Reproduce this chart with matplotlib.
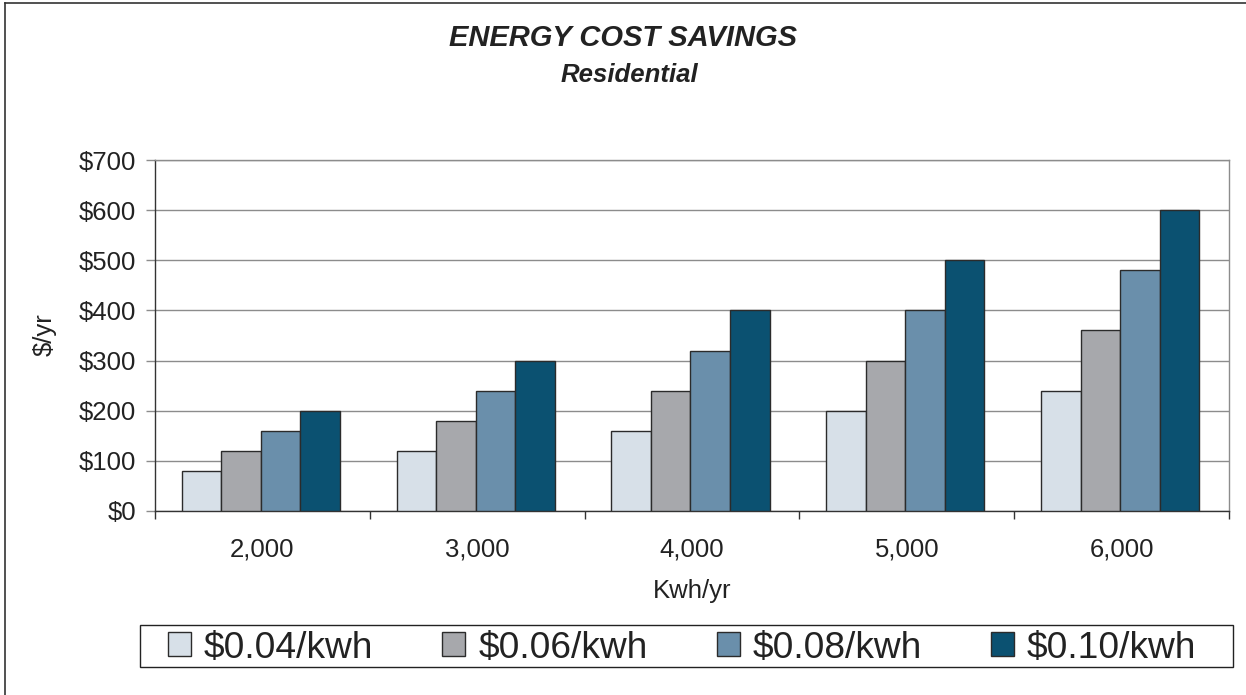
import matplotlib
matplotlib.use("Agg")
import matplotlib.pyplot as plt
from matplotlib.lines import Line2D
from matplotlib.patches import Rectangle
from matplotlib.ticker import FixedLocator, FuncFormatter
import numpy as np

plt.rcParams["font.family"] = ["Liberation Sans", "DejaVu Sans"]

kwh_labels = ["2,000", "3,000", "4,000", "5,000", "6,000"]
rate_labels = ["$0.04/kwh", "$0.06/kwh", "$0.08/kwh", "$0.10/kwh"]
savings_004 = [80, 120, 160, 200, 240]
savings_006 = [120, 180, 240, 300, 360]
savings_008 = [160, 240, 320, 400, 480]
savings_010 = [200, 300, 400, 500, 600]
y_ticks = [0, 100, 200, 300, 400, 500, 600, 700]

colors = ["#d7e0e8", "#a7a8ac", "#6a8fab", "#0b5171"]
text_color = "#222222"
grid_color = "#8c8c8c"

W, H = 1246, 695
fig = plt.figure(figsize=(W / 100, H / 100), dpi=100)
ax = fig.add_axes([155 / W, 1 - 511 / H, 1074 / W, 351 / H])

series = [savings_004, savings_006, savings_008, savings_010]
x = np.arange(len(kwh_labels))
bar_w = 0.184
for i, (vals, col, lab) in enumerate(zip(series, colors, rate_labels)):
    offset = (i - 1.5) * bar_w - 0.007
    ax.bar(x + offset, vals, width=bar_w, color=col, edgecolor="#2b2b2b",
           linewidth=1.0, label=lab, zorder=3)

ax.set_xlim(-0.5, len(kwh_labels) - 0.5)
ax.set_ylim(0, 700)
ax.set_yticks(y_ticks)
ax.yaxis.set_major_formatter(FuncFormatter(lambda v, _: f"${int(v)}"))
ax.grid(axis="y", color=grid_color, linewidth=1.0, zorder=0)
ax.set_axisbelow(True)

ax.set_xticks(x)
ax.set_xticklabels(kwh_labels)
ax.xaxis.set_minor_locator(FixedLocator(np.arange(-0.5, len(kwh_labels), 1.0)))
ax.tick_params(axis="x", which="major", length=0, pad=19, labelsize=18.5,
               labelcolor=text_color)
ax.tick_params(axis="x", which="minor", length=6, width=1, color="#333333",
               direction="out")
ax.tick_params(axis="y", length=6.5, width=1, color=grid_color, pad=7,
               labelsize=18.5, labelcolor=text_color)

for side in ("top", "right"):
    ax.spines[side].set_color(grid_color)
    ax.spines[side].set_linewidth(1.0)
for side in ("left", "bottom"):
    ax.spines[side].set_color("#333333")
    ax.spines[side].set_linewidth(1.0)

fig.text(45 / W, 1 - 335 / H, "$/yr", rotation=90, ha="center", va="center",
         fontsize=18.5, color=text_color)
fig.text(692 / W, 1 - 591 / H, "Kwh/yr", ha="center", va="center",
         fontsize=18.5, color=text_color)

fig.text(623 / W, 1 - 38 / H, "ENERGY COST SAVINGS", ha="center", va="center",
         fontsize=21, fontweight="bold", fontstyle="italic", color=text_color)
fig.text(629 / W, 1 - 75 / H, "Residential", ha="center", va="center",
         fontsize=18.5, fontweight="bold", fontstyle="italic", color=text_color)

# legend box drawn separately so the entries can sit at their own spacing
fig.add_artist(Rectangle((140 / W, 1 - 667 / H), 1093 / W, 42 / H,
                         transform=fig.transFigure, facecolor="white",
                         edgecolor="#222222", linewidth=1.0))
handles, labels = ax.get_legend_handles_labels()
leg = fig.legend(handles, labels, loc="center left", ncol=4,
                 bbox_to_anchor=(168 / W, 1 - 648 / H),
                 fontsize=26.7, frameon=False,
                 handlelength=0.62, handleheight=0.62, handletextpad=0.35,
                 columnspacing=1.86, borderpad=0, borderaxespad=0)
for t in leg.get_texts():
    t.set_color(text_color)

fig.add_artist(Line2D([5 / W, 5 / W], [0, 1 - 3 / H], transform=fig.transFigure,
                      color="#333333", linewidth=1.2))
fig.add_artist(Line2D([5 / W, 1], [1 - 3 / H, 1 - 3 / H], transform=fig.transFigure,
                      color="#333333", linewidth=1.2))

fig.savefig("out.png", dpi=100)
